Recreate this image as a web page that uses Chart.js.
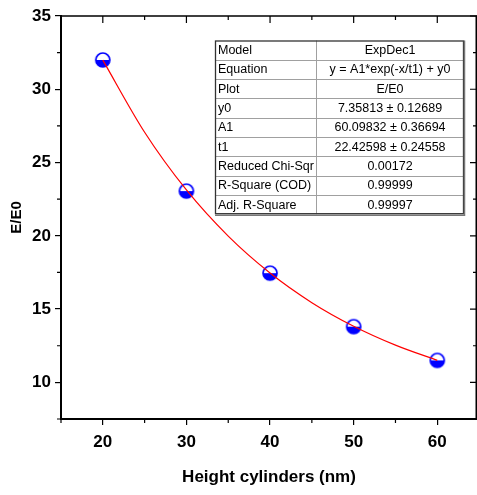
<!DOCTYPE html>
<html><head><meta charset="utf-8">
<script src="https://cdn.jsdelivr.net/npm/chart.js@4.4.1/dist/chart.umd.min.js"></script>
<style>html,body{margin:0;padding:0;background:#fff;overflow:hidden}#wrap{position:relative;width:477px;height:495px}</style>
</head><body><div id="wrap"><canvas id="c" width="477" height="495"></canvas></div>
<script>
// ---- data ----
const xValues = [20, 30, 40, 50, 60];
const yValues = [32.0, 23.05, 17.45, 13.8, 11.5];
const fitX = [20, 25, 30, 35, 40, 45, 50, 55, 60];
const fitY = [31.99, 27.07, 23.13, 19.98, 17.46, 15.44, 13.83, 12.54, 11.5];
const xTicks = [20, 30, 40, 50, 60];
const xMinor = [15, 25, 35, 45, 55];
const yTicks = [10, 15, 20, 25, 30, 35];
const yMinor = [7.5, 12.5, 17.5, 22.5, 27.5, 32.5];
const tableLabels = ['Model', 'Equation', 'Plot', 'y0', 'A1', 't1', 'Reduced Chi-Sqr', 'R-Square (COD)', 'Adj. R-Square'];
const tableValues = ['ExpDec1', 'y = A1*exp(-x/t1) + y0', 'E/E0', '7.35813 \u00b1 0.12689', '60.09832 \u00b1 0.36694', '22.42598 \u00b1 0.24558', '0.00172', '0.99999', '0.99997'];

const FONT = "'Liberation Sans', Arial, Helvetica, sans-serif";

// half-filled circle marker
function makeMarker() {
  const s = 20, c = document.createElement('canvas');
  c.width = s; c.height = s;
  const g = c.getContext('2d');
  const cx = s / 2, cy = s / 2, r = 7;
  g.beginPath(); g.arc(cx, cy, r, 0, Math.PI * 2); g.fillStyle = '#fff'; g.fill();
  g.beginPath(); g.arc(cx, cy, r, 0, Math.PI); g.closePath(); g.fillStyle = '#0000ff'; g.fill();
  g.beginPath(); g.arc(cx, cy, r, 0, Math.PI * 2); g.strokeStyle = '#0000ff'; g.lineWidth = 1.7; g.stroke();
  return c;
}

const framePlugin = {
  id: 'frame',
  afterDraw(chart) {
    const { ctx, chartArea: a, scales: { x, y } } = chart;
    ctx.save();
    ctx.strokeStyle = '#000';
    ctx.lineWidth = 1.5;
    ctx.beginPath();
    // top and right frame
    ctx.moveTo(a.left, a.top); ctx.lineTo(a.right - 0.75, a.top); ctx.lineTo(a.right - 0.75, a.bottom);
    ctx.stroke();
    ctx.lineWidth = 1.2;
    ctx.beginPath();
    // bottom minor ticks (outward), top ticks (inward)
    xMinor.forEach(v => { const px = x.getPixelForValue(v); ctx.moveTo(px, a.bottom); ctx.lineTo(px, a.bottom + 4); ctx.moveTo(px, a.top); ctx.lineTo(px, a.top + 4); });
    xTicks.forEach(v => { const px = x.getPixelForValue(v); ctx.moveTo(px, a.top); ctx.lineTo(px, a.top + 7); });
    yMinor.forEach(v => { const py = y.getPixelForValue(v); ctx.moveTo(a.left, py); ctx.lineTo(a.left - 4, py); ctx.moveTo(a.right, py); ctx.lineTo(a.right - 4, py); });
    yTicks.forEach(v => { const py = y.getPixelForValue(v); ctx.moveTo(a.right, py); ctx.lineTo(a.right - 7, py); });
    ctx.stroke();

    // parameter table
    const L = 215, R = 464, T = 40.5, rh = 19.3, C = 316, n = tableLabels.length, B = T + rh * n;
    ctx.fillStyle = '#fff';
    ctx.fillRect(L, T, R - L, B - T);
    ctx.strokeStyle = '#a0a0a0';
    ctx.lineWidth = 1;
    ctx.beginPath();
    for (let i = 1; i < n; i++) { const yy = Math.round(T + rh * i) + 0.5; ctx.moveTo(L, yy); ctx.lineTo(R, yy); }
    ctx.moveTo(C + 0.5, T); ctx.lineTo(C + 0.5, B);
    ctx.stroke();
    ctx.strokeStyle = '#333';
    ctx.lineWidth = 1.3;
    ctx.strokeRect(L + 0.5, T + 0.5, R - L - 1, B - T - 1);
    ctx.strokeStyle = '#777';
    ctx.lineWidth = 1.5;
    ctx.beginPath(); ctx.moveTo(R + 0.5, T); ctx.lineTo(R + 0.5, B + 1); ctx.lineTo(L, B + 1); ctx.stroke();
    ctx.fillStyle = '#000';
    ctx.font = '12.5px ' + FONT;
    ctx.textBaseline = 'middle';
    for (let i = 0; i < n; i++) {
      const cy = T + rh * i + rh / 2 + 0.5;
      ctx.textAlign = 'left';
      ctx.fillText(tableLabels[i], L + 3, cy);
      ctx.textAlign = 'center';
      ctx.fillText(tableValues[i], (C + R) / 2, cy);
    }
    ctx.restore();
  }
};

const tickFont = { family: FONT, size: 17, weight: 'bold' };

new Chart(document.getElementById('c'), {
  type: 'scatter',
  data: {
    datasets: [
      {
        type: 'line', label: 'ExpDec1 fit',
        data: fitX.map((v, i) => ({ x: v, y: fitY[i] })),
        borderColor: '#ff0000', borderWidth: 1.2, pointRadius: 0, fill: false,
        cubicInterpolationMode: 'monotone', order: 0
      },
      {
        label: 'E/E0',
        data: xValues.map((v, i) => ({ x: v, y: yValues[i] })),
        pointStyle: makeMarker(), pointRadius: 7, order: 1
      }
    ]
  },
  options: {
    responsive: false, animation: false, devicePixelRatio: 1,
    layout: { autoPadding: false, padding: { top: 16, right: 0, left: 0, bottom: 0 } },
    plugins: { legend: { display: false }, tooltip: { enabled: false } },
    scales: {
      x: {
        type: 'linear', min: 15, max: 64.75,
        afterBuildTicks: s => { s.ticks = xTicks.map(v => ({ value: v })); },
        afterFit: s => { s.height = 76; s.paddingRight = 0; },
        grid: { display: true, drawOnChartArea: false, drawTicks: true, tickLength: 6, color: '#000', lineWidth: 1.2 },
        border: { display: true, color: '#000', width: 2 },
        ticks: { font: tickFont, color: '#000', padding: 7, maxRotation: 0 },
        title: { display: true, text: 'Height cylinders (nm)', font: { family: FONT, size: 17, weight: 'bold' }, color: '#000', padding: { top: 0, bottom: 7 } }
      },
      y: {
        type: 'linear', min: 7.5, max: 35,
        afterBuildTicks: s => { s.ticks = yTicks.map(v => ({ value: v })); },
        afterFit: s => { s.width = 61; },
        grid: { display: true, drawOnChartArea: false, drawTicks: true, tickLength: 6, color: '#000', lineWidth: 1.2 },
        border: { display: true, color: '#000', width: 2 },
        ticks: { font: tickFont, color: '#000', padding: 4 },
        title: { display: true, text: 'E/E0', font: { family: FONT, size: 15, weight: 'bold' }, color: '#000', padding: { top: 8, bottom: 0 } }
      }
    }
  },
  plugins: [framePlugin]
});
</script>
</body></html>
